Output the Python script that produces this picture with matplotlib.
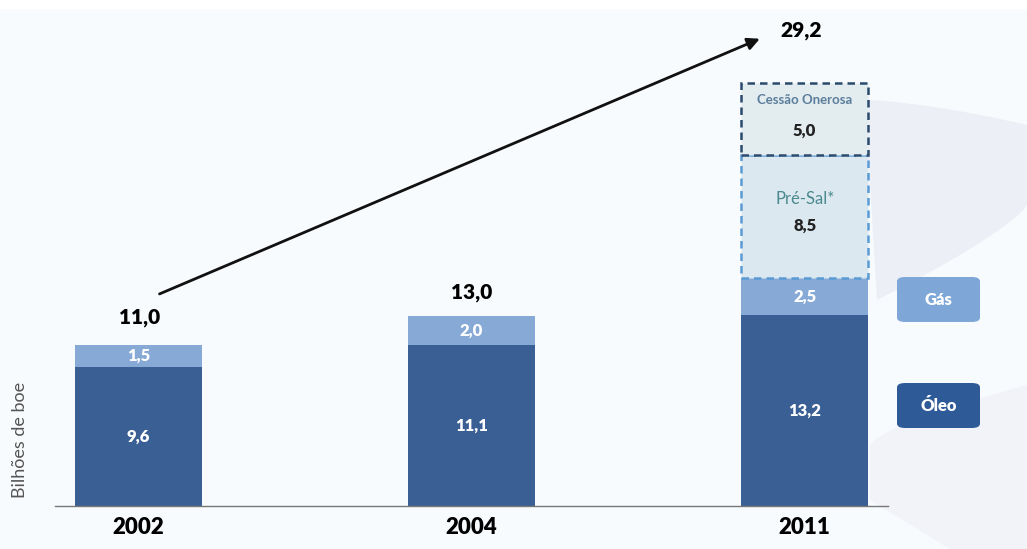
import matplotlib.pyplot as plt
from matplotlib.patches import FancyBboxPatch, Polygon
import numpy as np

plt.rcParams['font.family'] = ['Lato', 'DejaVu Sans']

anos = ['2002', '2004', '2011']
oleo = [9.6, 11.1, 13.2]
gas = [1.5, 2.0, 2.5]
pre_sal = [0, 0, 8.5]
cessao = [0, 0, 5.0]
totais = ['11,0', '13,0', '29,2']

cor_oleo = '#3a5f95'
cor_gas = '#86a9d6'

fig = plt.figure(figsize=(10.27, 5.49), dpi=100)
fig.patch.set_facecolor('#f8fbfd')

# fundo: faixa branca no topo e "swoosh" cinza a direita (em pixels)
bg = fig.add_axes([0, 0, 1, 1], zorder=-1)
bg.set_xlim(0, 1027)
bg.set_ylim(549, 0)
bg.axis('off')
bg.add_patch(plt.Rectangle((0, 0), 1027, 8, color='white'))
t = np.linspace(0, 1, 40)
topo = np.column_stack([865 + 162 * t, 100 + 25 * t ** 1.5])
baixo = np.column_stack([1027 - 150 * t, 205 + 95 * t ** 0.8])
bg.add_patch(Polygon(np.vstack([topo, baixo]), closed=True, facecolor='#eceff6',
                     edgecolor='none'))
topo2 = np.column_stack([870 + 157 * t, 445 - 60 * t ** 0.7])
bg.add_patch(Polygon(np.vstack([topo2, [[1027, 549], [950, 549], [870, 500]]]), closed=True,
                     facecolor='#f1f3f9', edgecolor='none'))

ax = fig.add_axes([55 / 1027, 43 / 549, 833 / 1027, 493 / 549])
ax.set_facecolor('none')
x = np.arange(len(anos))
w = 0.381

ax.bar(x, oleo, w, color=cor_oleo, zorder=2)
ax.bar(x, gas, w, bottom=oleo, color=cor_gas, zorder=2)

base_ps = np.array(oleo) + np.array(gas)
ax.bar(x[2], pre_sal[2], w, bottom=base_ps[2], facecolor='#dbe8ef',
       edgecolor='#5b9bd5', linestyle=(0, (3, 2)), linewidth=1.8, zorder=2)
base_co = base_ps[2] + pre_sal[2]
ax.bar(x[2], cessao[2], w, bottom=base_co, facecolor='#e3ecee',
       edgecolor='#2a4a6e', linestyle=(0, (3, 2)), linewidth=1.8, zorder=3)

for i in range(3):
    ax.text(x[i], oleo[i] / 2, f'{oleo[i]:.1f}'.replace('.', ','), ha='center', va='center',
            color='white', fontsize=12, fontweight='heavy', zorder=4)
    ax.text(x[i], oleo[i] + gas[i] / 2, f'{gas[i]:.1f}'.replace('.', ','), ha='center',
            va='center', color='white', fontsize=12, fontweight='heavy', zorder=4)

ax.text(x[2], base_ps[2] + pre_sal[2] * 0.64, 'Pré-Sal*', ha='center', va='center',
        color='#4a8a8f', fontsize=12, zorder=4)
ax.text(x[2], base_ps[2] + pre_sal[2] * 0.43, '8,5', ha='center', va='center',
        color='#222222', fontsize=12, fontweight='heavy', zorder=4)
ax.text(x[2], base_co + cessao[2] * 0.76, 'Cessão Onerosa', ha='center', va='center',
        color='#5b7e9c', fontsize=9.5, fontweight='bold', zorder=4)
ax.text(x[2], base_co + cessao[2] * 0.33, '5,0', ha='center', va='center',
        color='#222222', fontsize=12, fontweight='heavy', zorder=4)

# totais
ax.text(x[0] + 0.005, 12.97, totais[0], ha='center', va='center', fontsize=15, fontweight='heavy')
ax.text(x[1], 14.7, totais[1], ha='center', va='center', fontsize=15, fontweight='heavy')
ax.text(1.99, 32.8, totais[2], ha='center', va='center', fontsize=15, fontweight='heavy')

ax.annotate('', xy=(1.873, 32.3), xytext=(0.056, 14.55),
            arrowprops=dict(arrowstyle='-|>', color='#111111', lw=2, mutation_scale=18))

ax.set_xlim(-0.25, 2.25)
ax.set_ylim(0, 34)
ax.set_xticks(x)
ax.set_xticklabels(anos, fontsize=16, fontweight='heavy')
ax.tick_params(axis='x', length=0, pad=8)
ax.set_yticks([])
for s in ['top', 'right', 'left']:
    ax.spines[s].set_visible(False)
ax.spines['bottom'].set_color('#777777')
ax.spines['bottom'].set_linewidth(1)

fig.text(20 / 1027, 1 - 440 / 549, 'Bilhões de boe', rotation=90, ha='center', va='center',
         fontsize=13, color='#555555')

# legenda
for nome, cor, ytop in [('Gás', '#7ea6d6', 277), ('Óleo', '#2f5a98', 383)]:
    caixa = FancyBboxPatch((897 / 1027, 1 - (ytop + 45) / 549), 83 / 1027, 45 / 549,
                           boxstyle='round,pad=0,rounding_size=0.008', transform=fig.transFigure,
                           facecolor=cor, edgecolor='none')
    fig.patches.append(caixa)
    fig.text(938.5 / 1027, 1 - (ytop + 23) / 549, nome, ha='center', va='center',
             color='white', fontsize=12, fontweight='heavy')

fig.savefig('out.png', dpi=100, facecolor=fig.get_facecolor())
